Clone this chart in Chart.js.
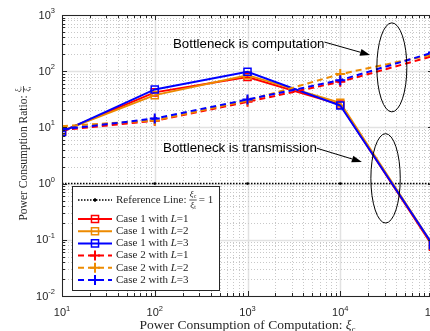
<!DOCTYPE html>
<html>
<head>
<meta charset="utf-8">
<script src="https://cdn.jsdelivr.net/npm/chart.js@4/dist/chart.umd.min.js"></script>
<style>
  html, body { margin: 0; padding: 0; background: #fff; overflow: hidden; width: 430px; height: 331px; }
  canvas { display: block; }
</style>
</head>
<body>
<canvas id="ratio" width="470" height="331"></canvas>
<script>
// x values: power consumption of computation
const xVals = [10, 100, 1000, 10000, 100000];

// Case 1 (solid, square markers)
const case1L1 = [8.5, 42, 79, 25.4, 0.075];
const case1L2 = [8.6, 37.5, 85, 27.3, 0.08];
const case1L3 = [8.3, 47.4, 97.5, 24.5, 0.08];
// Case 2 (dashed, cross markers)
const case2L1 = [9.0, 13.1, 28.5, 64.7, 186];
const case2L2 = [10.5, 13.3, 30, 88.8, 198];
const case2L3 = [9.2, 14.4, 31.4, 69.3, 215];
// reference line xi_c / xi_t = 1
const refLine = [1, 1, 1, 1, 1];

const xTicks = [1, 2, 3, 4, 5];       // exponents shown on x axis
const yTicks = [-2, -1, 0, 1, 2, 3];  // exponents shown on y axis

const RED = '#ff0000', ORANGE = '#ed8a00', BLUE = '#0000ff';
const SERIF = '"Liberation Serif", "DejaVu Serif", serif';
const SANS = '"Liberation Sans", Arial, sans-serif';

const pts = arr => xVals.map((x, i) => ({ x: x, y: arr[i] }));

function caseSet(label, L, arr, color, dashed) {
  return {
    label: label, L: L,
    data: pts(arr),
    borderColor: color,
    backgroundColor: 'rgba(0,0,0,0)',
    borderWidth: 2,
    borderDash: dashed ? [6, 4] : [],
    pointStyle: dashed ? 'cross' : 'rect',
    pointRadius: 5,
    pointBorderWidth: dashed ? 2 : 1.5,
    pointBorderColor: color,
    pointBackgroundColor: 'rgba(0,0,0,0)',
    tension: 0
  };
}

const datasets = [
  {
    label: 'Reference Line', data: pts(refLine),
    borderColor: '#000', borderWidth: 1.5, borderDash: [1.5, 1.5],
    pointRadius: 1.3, pointBackgroundColor: '#000', pointBorderWidth: 0
  },
  caseSet('Case 1 with ', '1', case1L1, RED, false),
  caseSet('Case 1 with ', '2', case1L2, ORANGE, false),
  caseSet('Case 1 with ', '3', case1L3, BLUE, false),
  caseSet('Case 2 with ', '1', case2L1, RED, true),
  caseSet('Case 2 with ', '2', case2L2, ORANGE, true),
  caseSet('Case 2 with ', '3', case2L3, BLUE, true)
];
// later datasets drawn on top
datasets.forEach((d, i) => { d.order = datasets.length - i; });

// text runs: [text, font, dy]
function runs(ctx, x, y, list) {
  let cx = x;
  list.forEach(r => {
    ctx.font = r[1];
    ctx.fillText(r[0], cx, y + (r[2] || 0));
    cx += ctx.measureText(r[0]).width;
  });
  return cx - x;
}
function runsWidth(ctx, list) {
  let w = 0;
  list.forEach(r => { ctx.font = r[1]; w += ctx.measureText(r[0]).width; });
  return w;
}
// xi_a over xi_b, returns width
function frac(ctx, x, y, a, b, size) {
  const xi = 'italic ' + size + 'px ' + SERIF;
  const sub = (size * 0.65) + 'px ' + SERIF;
  const num = [['ξ', xi], [a, sub, size * 0.25]];
  const den = [['ξ', xi], [b, sub, size * 0.25]];
  const w = Math.max(runsWidth(ctx, num), runsWidth(ctx, den)) + 1;
  runs(ctx, x + (w - runsWidth(ctx, num)) / 2, y - size * 0.62, num);
  runs(ctx, x + (w - runsWidth(ctx, den)) / 2, y + size * 0.62, den);
  ctx.fillRect(x, y - 0.4, w, 0.8);
  return w;
}

function powLabel(ctx, e, x, y, align) {
  const base = '11px ' + SANS, sup = '7.5px ' + SANS;
  ctx.font = base; const wb = ctx.measureText('10').width;
  ctx.font = sup; const ws = ctx.measureText(String(e)).width;
  const sx = align === 'right' ? x - wb - ws : x - (wb + ws) / 2;
  ctx.textBaseline = 'middle';
  ctx.font = base; ctx.fillText('10', sx, y);
  ctx.font = sup; ctx.fillText(String(e), sx + wb, y - 4.5);
}

function marker(ctx, style, x, y, r, color, lw) {
  ctx.save();
  ctx.strokeStyle = color; ctx.lineWidth = lw; ctx.setLineDash([]);
  ctx.beginPath();
  if (style === 'rect') {
    const s = r * Math.SQRT1_2;
    ctx.rect(x - s, y - s, 2 * s, 2 * s);
  } else if (style === 'cross') {
    ctx.moveTo(x - r, y); ctx.lineTo(x + r, y);
    ctx.moveTo(x, y - r); ctx.lineTo(x, y + r);
  } else {
    ctx.fillStyle = color; ctx.arc(x, y, r, 0, Math.PI * 2); ctx.fill();
  }
  ctx.stroke();
  ctx.restore();
}

function arrow(ctx, x1, y1, x2, y2) {
  const a = Math.atan2(y2 - y1, x2 - x1), len = 10, wid = 3.5;
  ctx.beginPath(); ctx.moveTo(x1, y1);
  ctx.lineTo(x2 - len * Math.cos(a), y2 - len * Math.sin(a)); ctx.stroke();
  ctx.beginPath();
  ctx.moveTo(x2, y2);
  ctx.lineTo(x2 - len * Math.cos(a) + wid * Math.sin(a), y2 - len * Math.sin(a) - wid * Math.cos(a));
  ctx.lineTo(x2 - len * Math.cos(a) - wid * Math.sin(a), y2 - len * Math.sin(a) + wid * Math.cos(a));
  ctx.closePath(); ctx.fill();
}

const gridPlugin = {
  id: 'gridPlugin',
  beforeDatasetsDraw(chart) {
    const ctx = chart.ctx, a = chart.chartArea;
    const xs = chart.scales.x, ys = chart.scales.y;
    ctx.save();
    for (let n = 1; n <= 5; n++) for (let k = 1; k <= 9; k++) {
      const v = k * Math.pow(10, n); if (v > 1e5) break;
      const px = Math.round(xs.getPixelForValue(v)) + 0.5;
      ctx.beginPath();
      if (k === 1) { ctx.setLineDash([]); ctx.strokeStyle = '#e2e2e2'; ctx.lineWidth = 1.5; }
      else { ctx.setLineDash([1, 2]); ctx.strokeStyle = '#c8c8c8'; ctx.lineWidth = 1; }
      ctx.moveTo(px, a.top); ctx.lineTo(px, a.bottom); ctx.stroke();
    }
    for (let n = -2; n <= 3; n++) for (let k = 1; k <= 9; k++) {
      const v = k * Math.pow(10, n); if (v > 1e3) break;
      const py = Math.round(ys.getPixelForValue(v)) + 0.5;
      ctx.beginPath();
      if (k === 1) { ctx.setLineDash([]); ctx.strokeStyle = '#e2e2e2'; ctx.lineWidth = 1.5; }
      else { ctx.setLineDash([1, 2]); ctx.strokeStyle = '#c8c8c8'; ctx.lineWidth = 1; }
      ctx.moveTo(a.left, py); ctx.lineTo(a.right, py); ctx.stroke();
    }
    ctx.restore();
  },
  afterDatasetsDraw(chart) {
    const ctx = chart.ctx, a = chart.chartArea;
    const xs = chart.scales.x, ys = chart.scales.y;
    ctx.save();
    // box and inner ticks
    ctx.strokeStyle = '#262626'; ctx.lineWidth = 1; ctx.setLineDash([]);
    ctx.strokeRect(a.left + 0.5, a.top + 0.5, a.right - a.left, a.bottom - a.top);
    ctx.beginPath();
    for (let n = 1; n <= 5; n++) for (let k = 1; k <= 9; k++) {
      const v = k * Math.pow(10, n); if (v > 1e5) break;
      const px = Math.round(xs.getPixelForValue(v)) + 0.5, t = k === 1 ? 5 : 3;
      ctx.moveTo(px, a.bottom); ctx.lineTo(px, a.bottom - t);
      ctx.moveTo(px, a.top); ctx.lineTo(px, a.top + t);
    }
    for (let n = -2; n <= 3; n++) for (let k = 1; k <= 9; k++) {
      const v = k * Math.pow(10, n); if (v > 1e3) break;
      const py = Math.round(ys.getPixelForValue(v)) + 0.5, t = k === 1 ? 5 : 3;
      ctx.moveTo(a.left, py); ctx.lineTo(a.left + t, py);
      ctx.moveTo(a.right, py); ctx.lineTo(a.right - t, py);
    }
    ctx.stroke();

    // tick labels
    ctx.fillStyle = '#262626';
    xTicks.forEach(e => powLabel(ctx, e, xs.getPixelForValue(Math.pow(10, e)), a.bottom + 17, 'center'));
    yTicks.forEach(e => powLabel(ctx, e, a.left - 7, ys.getPixelForValue(Math.pow(10, e)) + 0.5, 'right'));

    // axis titles
    ctx.fillStyle = '#262626';
    ctx.textBaseline = 'alphabetic';
    const fx = '13.5px ' + SERIF;
    const xt = [['Power Consumption of Computation: ', fx], ['ξ', 'italic 13.5px ' + SERIF], ['c', '8.5px ' + SERIF, 2.5]];
    runs(ctx, (a.left + a.right) / 2 - runsWidth(ctx, xt) / 2, a.bottom + 33, xt);

    ctx.save();
    ctx.translate(27, 152);
    ctx.rotate(-Math.PI / 2);
    const fy = '11.5px ' + SERIF;
    const yt = [['Power Consumption Ratio: ', fy]];
    const tw = runsWidth(ctx, yt) + 9;
    const used = runs(ctx, -tw / 2, 0, yt);
    ctx.textBaseline = 'middle';
    frac(ctx, -tw / 2 + used, -3.5, 'c', 't', 7.5);
    ctx.restore();

    // annotations
    ctx.strokeStyle = '#000'; ctx.fillStyle = '#000'; ctx.lineWidth = 1;
    ctx.font = '13.3px ' + SANS; ctx.textBaseline = 'middle';
    const t1 = 'Bottleneck is computation', t2 = 'Bottleneck is transmission';
    const p1x = xs.getPixelForValue(157), p1y = ys.getPixelForValue(304);
    const p2x = xs.getPixelForValue(123), p2y = ys.getPixelForValue(4.26);
    ctx.fillText(t1, p1x, p1y);
    ctx.fillText(t2, p2x, p2y);
    arrow(ctx, p1x + ctx.measureText(t1).width, p1y - 2,
      xs.getPixelForValue(21000), ys.getPixelForValue(194));
    arrow(ctx, p2x + ctx.measureText(t2).width, p2y,
      xs.getPixelForValue(17100), ys.getPixelForValue(2.43));
    ctx.beginPath();
    ctx.ellipse(xs.getPixelForValue(36000), ys.getPixelForValue(117), 15, 44.5, 0, 0, Math.PI * 2);
    ctx.stroke();
    ctx.beginPath();
    ctx.ellipse(xs.getPixelForValue(30800), ys.getPixelForValue(1.24), 14.7, 44.7, 0, 0, Math.PI * 2);
    ctx.stroke();

    // legend
    const lx = a.left + 10, ly = a.top + 171, lw = 147, lh = 104;
    ctx.fillStyle = '#fff';
    ctx.fillRect(lx, ly, lw, lh);
    ctx.strokeStyle = '#262626'; ctx.lineWidth = 1;
    ctx.strokeRect(lx + 0.5, ly + 0.5, lw, lh);
    const sx1 = lx + 6, sx2 = lx + 40, tx = lx + 44;
    chart.data.datasets.forEach((d, i) => {
      const y = i === 0 ? ly + 14 : ly + 33 + (i - 1) * 12.2;
      ctx.save();
      ctx.strokeStyle = d.borderColor; ctx.lineWidth = d.borderWidth;
      ctx.setLineDash(d.borderDash || []);
      ctx.beginPath(); ctx.moveTo(sx1, y); ctx.lineTo(sx2, y); ctx.stroke();
      ctx.restore();
      marker(ctx, d.pointStyle || 'circle', (sx1 + sx2) / 2, y, i === 0 ? 1.3 : 5,
        d.borderColor, d.pointBorderWidth || 1);
      ctx.fillStyle = '#262626'; ctx.textBaseline = 'middle';
      if (i === 0) {
        const w = runs(ctx, tx, y, [['Reference Line: ', '11px ' + SERIF]]);
        const fw = frac(ctx, tx + w, y, 'c', 't', 9);
        runs(ctx, tx + w + fw + 2, y, [['= 1', '11px ' + SERIF]]);
      } else {
        runs(ctx, tx, y, [[d.label, '11px ' + SERIF], ['L', 'italic 11px ' + SERIF], ['=' + d.L, '11px ' + SERIF]]);
      }
    });
    ctx.restore();
  }
};

new Chart(document.getElementById('ratio').getContext('2d'), {
  type: 'line',
  data: { datasets: datasets },
  options: {
    responsive: false,
    animation: false,
    devicePixelRatio: 1,
    layout: { padding: { left: 62, top: 15, right: 37, bottom: 35 } },
    scales: {
      x: { type: 'logarithmic', min: 10, max: 100000, display: false },
      y: { type: 'logarithmic', min: 0.01, max: 1000, display: false }
    },
    plugins: {
      legend: { display: false },
      tooltip: { enabled: false }
    }
  },
  plugins: [gridPlugin]
});
</script>
</body>
</html>
